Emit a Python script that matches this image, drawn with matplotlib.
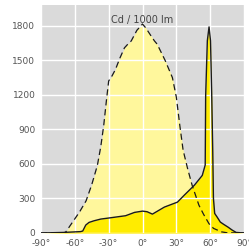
import matplotlib
matplotlib.use("Agg")
import matplotlib.pyplot as plt

# Dashed (wide) distribution, Cd / 1000 lm
dash_deg = [-90, -70, -68, -62, -56, -50, -45, -40, -37, -34.4, -32, -30, -27, -24, -20, -16,
            -13, -10, -5, 0, 3, 7, 10.6, 13, 16, 20, 26.5, 30, 33, 36, 40, 44, 50, 54, 59, 63, 70, 75, 90]
dash_val = [0, 0, 9, 95, 180, 280, 420, 588, 750, 933, 1150, 1320, 1365, 1420, 1520, 1608,
            1640, 1668, 1760, 1815, 1780, 1720, 1668, 1640, 1580, 1500, 1350, 1180, 940, 720, 559, 415, 242, 165, 80, 40, 10, 2, 0]

# Solid (asymmetric) distribution
sol_deg = [-90, -70, -55, -53, -50.3, -47.4, -43, -37, -30, -15, -7, 0, 4, 8.8, 19.4, 31, 37, 46, 53,
           55.6, 56, 57.5, 59, 60.3, 61.4, 62.3, 62.9, 64, 66.2, 69, 72, 76, 79.4, 83, 90]
sol_val = [0, 5, 12, 17, 69, 92, 106, 121, 130, 150, 179, 190, 185, 164, 225, 268, 328, 415, 500,
           590, 1190, 1670, 1790, 1670, 1190, 700, 300, 170, 138, 95, 75, 50, 26, 5, 0]

x_ticks = [-90, -60, -30, 0, 30, 60, 90]
x_labels = ["-90°", "-60°", "-30°", "0°", "30°", "60°", "90°"]
y_ticks = [0, 300, 600, 900, 1200, 1500, 1800]
title = "Cd / 1000 lm"

fig = plt.figure(figsize=(2.49, 2.50), dpi=100)
ax = fig.add_axes([41/249, 1-233/250, 203/249, 228/250])
ax.set_facecolor("#dadada")

ax.fill_between(dash_deg, dash_val, 0, color="#fff79c", lw=0, zorder=1)
ax.fill_between(sol_deg, sol_val, 0, color="#ffec00", lw=0, zorder=1.5)
ax.grid(True, color="white", lw=1.0, zorder=2)
ax.set_axisbelow(False)
for gl in ax.get_xgridlines() + ax.get_ygridlines():
    gl.set_zorder(2)
ax.plot(sol_deg, sol_val, color="#1a1a1a", lw=1.0, zorder=3)
ax.plot(dash_deg, dash_val, color="#1a1a1a", lw=0.9, ls=(0, (5, 3)), zorder=3.5)

ax.set_xlim(-90, 90)
ax.set_ylim(0, 1980)
ax.set_xticks(x_ticks)
ax.set_xticklabels(x_labels)
ax.set_yticks(y_ticks)
ax.set_yticklabels([str(v) for v in y_ticks])
ax.tick_params(length=0, labelsize=6.5, labelcolor="#555555", pad=4)
for s in ax.spines.values():
    s.set_visible(False)

ax.text(0.5, 0.0 + (233-20)/228, title, transform=ax.transAxes, ha="center", va="center",
        fontsize=7, color="#444444")

fig.savefig("out.png", dpi=100)
